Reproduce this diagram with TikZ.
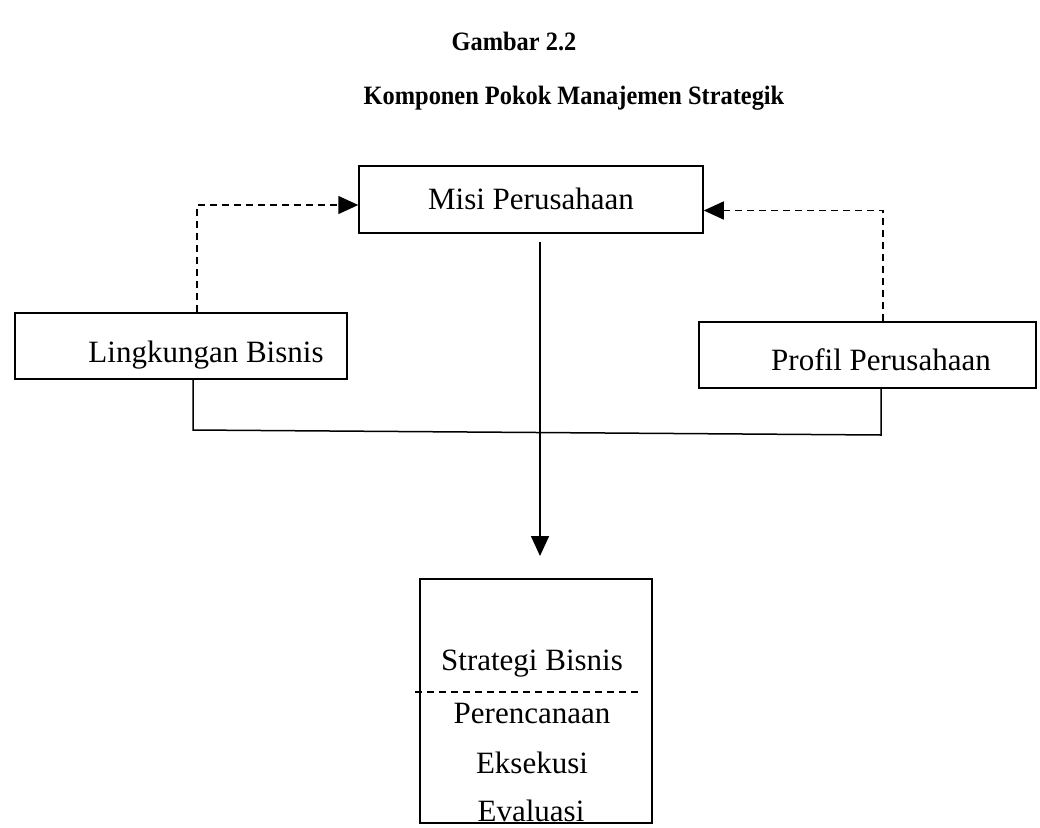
\documentclass[tikz,border=0pt]{standalone}
\usepackage{fontspec}
\setmainfont{Liberation Serif}
\newfontfamily\ttlfont[FakeStretch=0.92]{Liberation Serif}
\usetikzlibrary{arrows.meta}
\begin{document}
\begin{tikzpicture}[x=1pt,y=-1pt,
  box/.style={draw, line width=1.5pt, inner sep=0pt},
  lbl/.style={anchor=base, inner sep=0pt, font=\fontsize{31}{37}\selectfont},
  ttl/.style={anchor=base, inner sep=0pt, font=\ttlfont\fontsize{26.5}{32}\selectfont\bfseries},
  solidline/.style={line width=1.5pt},
  dashline/.style={line width=1.5pt, dash pattern=on 7pt off 5pt},
  tip/.style={-{Triangle[length=20pt,width=18pt]}}
]
\useasboundingbox (0,0) rectangle (1040,827);

% titles
\node[ttl] (t1) at (514,50) {Gambar 2.2};
\node[ttl] (t2) at (574,104) {Komponen Pokok Manajemen Strategik};

% boxes
\node[box, minimum width=344pt, minimum height=67pt] (M) at (531,199.5) {};
\node[box, minimum width=332pt, minimum height=66pt] (L) at (181,346) {};
\node[box, minimum width=337pt, minimum height=66pt] (P) at (867.5,355) {};
\node[box, minimum width=232pt, minimum height=244pt] (S) at (536,701) {};

% box texts
\node[lbl] (mt) at (531,209) {Misi Perusahaan};
\node[lbl] (lt) at (206,362) {Lingkungan Bisnis};
\node[lbl] (pt) at (881,370) {Profil Perusahaan};
\node[lbl] (s1) at (532,670) {Strategi Bisnis};
\node[lbl] (s2) at (532,723) {Perencanaan};
\node[lbl] (s3) at (532,773) {Eksekusi};
\node[lbl] (s4) at (531,821) {Evaluasi};

% dashed feedback arrows
\draw[dashline, tip] ([xshift=16pt]L.north) |- ([yshift=-5.5pt]M.west);
\draw[dashline, tip] ([xshift=15.5pt]P.north) |- ([yshift=-11pt]M.east);

% joining line below
\coordinate (jl) at (193,430);
\coordinate (jr) at (881,435);
\draw[solidline] ([xshift=12pt]L.south) -- (jl) -- (jr) -- ([xshift=13.5pt]P.south);

% main arrow
\coordinate (arrtip) at (540,556);
\draw[solidline, tip] ([xshift=9pt,yshift=-8pt]M.south) -- (arrtip);

% divider in strategy box
\coordinate (d1) at (415,692);
\coordinate (d2) at (642,692);
\draw[dashline] (d1) -- (d2);
\end{tikzpicture}
\end{document}
